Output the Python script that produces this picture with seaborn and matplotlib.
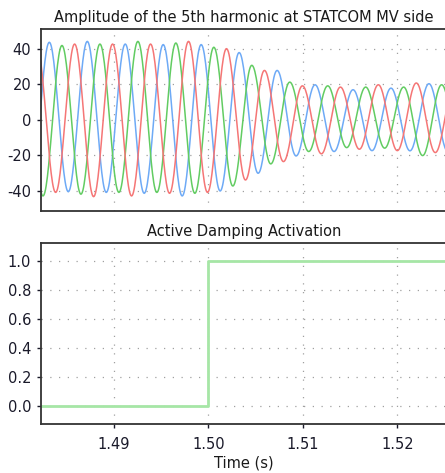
import numpy as np
import pandas as pd
import matplotlib
matplotlib.use("Agg")
import matplotlib.pyplot as plt
import seaborn as sns

# ---------------- data ----------------
PERIOD = 0.00402            # 5th harmonic period (s)
BLUE_FIRST_PEAK = 1.48315   # time of first visible blue peak (s)

phase_names = ["Phase A", "Phase B", "Phase C"]
phase_colors = ["#6eaaf6", "#62cc62", "#f57676"]

# successive extremes (alternating), one every half period
blue_extrema = [-41, 43.8, -40.6, 44.3, -41, 42.8, -41.5, 42.5, -43, 42.5,
                -40.2, 38, -30.2, 27.9, -20.4, 19.8, -17.9, 17, -17.4, 17.9,
                -17.5, 20.4, -18]
green_extrema = [42, -43, 42, -42, 42.8, -41, 44.3, -41, 43.4, -41.5, 41,
                 -37.4, 30.8, -24.9, 21.3, -17.9, 19.2, -15.7, 18.5, -16,
                 18.5, -20.2, 19.8, -18]
red_extrema = [42, -41, 42.8, -43.4, 42.8, -43, 42.8, -41.5, 44.3, -41, 40.2,
               -34, 27.9, -23.6, 19.2, -19.2, 18.5, -16.6, 19.8, -17.4, 20.8,
               -18.5, 19]
# start offset of each extreme list relative to BLUE_FIRST_PEAK, in periods
extrema_start = [-1 / 2, -2 / 3, -1 / 3]

step_time = [1.4823, 1.50, 1.5253]
step_value = [0.0, 1.0, 1.0]

x_ticks = [1.49, 1.50, 1.51, 1.52]
top_yticks = [-40, -20, 0, 20, 40]
bot_yticks = [0.0, 0.2, 0.4, 0.6, 0.8, 1.0]
XLIM = (1.48227, 1.52526)


def waveform(extrema, t0, half):
    ts, vs = [], []
    for i in range(len(extrema) - 1):
        a, b = extrema[i], extrema[i + 1]
        u = np.linspace(0, 1, 30, endpoint=False)
        ts.append(t0 + (i + u) * half)
        vs.append((a + b) / 2 + (a - b) / 2 * np.cos(np.pi * u))
    return np.concatenate(ts), np.concatenate(vs)


frames = []
for name, ext, off in zip(phase_names, [blue_extrema, green_extrema, red_extrema], extrema_start):
    t, v = waveform(ext, BLUE_FIRST_PEAK + off * PERIOD, PERIOD / 2)
    frames.append(pd.DataFrame({"t": t, "v": v, "phase": name}))
wave_df = pd.concat(frames, ignore_index=True)

# ---------------- figure ----------------
sns.set_theme(style="white")
plt.rcParams["font.family"] = ["DejaVu Sans"]
plt.rcParams["axes.unicode_minus"] = False

W, H = 445, 473
fig = plt.figure(figsize=(W / 100, H / 100), dpi=100)
fig.patch.set_facecolor("white")


def px_axes(left, top, right, bottom):
    return fig.add_axes([left / W, 1 - bottom / H, (right - left) / W, (bottom - top) / H])


ax1 = px_axes(41, 29, 447, 211)
ax2 = px_axes(41, 243, 447, 424)

sns.lineplot(data=wave_df, x="t", y="v", hue="phase", palette=phase_colors,
             ax=ax1, legend=False, linewidth=1.1, sort=False, estimator=None)
sns.lineplot(x=step_time, y=step_value, ax=ax2, drawstyle="steps-post",
             color="#a6e6a6", linewidth=2.0, legend=False)

ax1.set_ylim(-51.5, 51.3)
ax2.set_ylim(-0.126, 1.121)
ax1.set_yticks(top_yticks)
ax1.set_yticklabels([str(v) for v in top_yticks])
ax2.set_yticks(bot_yticks)
ax2.set_yticklabels([f"{v:.1f}" for v in bot_yticks])

for ax in (ax1, ax2):
    ax.set_xlim(*XLIM)
    ax.set_xticks(x_ticks)
    ax.grid(True, color="#a0a0a0", linestyle=(0, (1, 6)), linewidth=0.9)
    for s in ("left", "bottom", "top"):
        ax.spines[s].set_color("#333333")
        ax.spines[s].set_linewidth(1.3)
    ax.spines["right"].set_visible(False)
    ax.tick_params(axis="y", labelsize=10.5, colors="#1a1a2a", length=3, width=1, direction="out", left=True, pad=4)
    ax.tick_params(axis="x", labelsize=10.5, colors="#1a1a2a", length=3, width=1, direction="out", bottom=True, pad=6)
    ax.set_ylabel("")
    ax.set_xlabel("")

ax1.tick_params(axis="x", length=0)
ax1.set_xticklabels([])
ax2.set_xticklabels([f"{v:.2f}" for v in x_ticks])
ax1.set_title("Amplitude of the 5th harmonic at STATCOM MV side", fontsize=10.5, color="#1a1a1a", pad=5)
ax2.set_title("Active Damping Activation", fontsize=10.5, color="#1a1a1a", pad=5)
ax2.set_xlabel("Time (s)", fontsize=10.5, color="#1a1a1a", labelpad=3)

fig.savefig("out.png", dpi=100)
